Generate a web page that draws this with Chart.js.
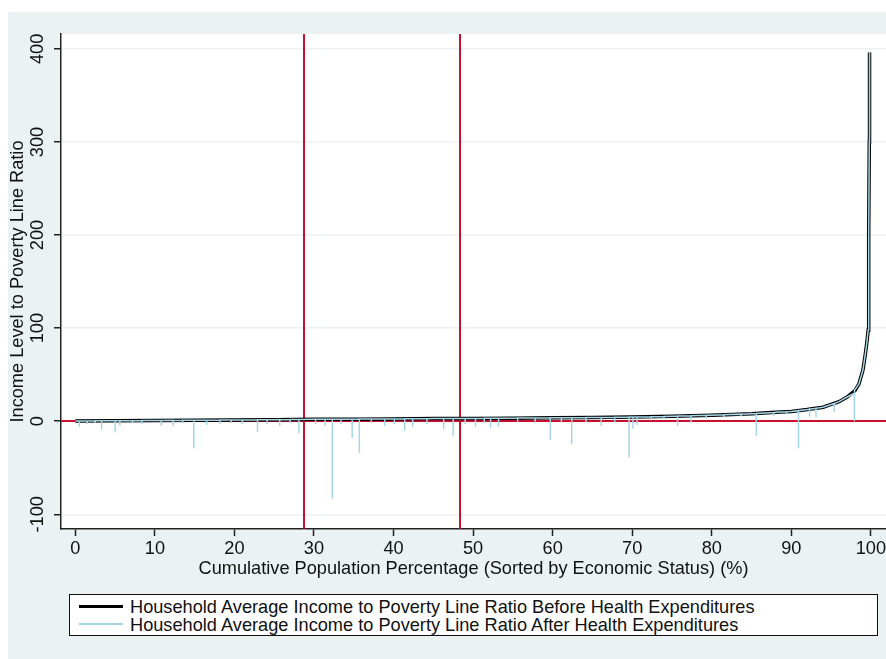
<!DOCTYPE html>
<html>
<head>
<meta charset="utf-8">
<script src="https://cdn.jsdelivr.net/npm/chart.js@4.4.1/dist/chart.umd.min.js"></script>
<style>
  html, body { margin: 0; padding: 0; background: #fff; }
  #wrap { position: relative; width: 886px; height: 659px; }
  #legend {
    position: absolute; left: 69px; top: 594px; width: 809px; height: 42px;
    box-sizing: border-box; border: 1px solid #111; background: #fff;
    font: 18.2px Arial, "Liberation Sans", sans-serif; color: #111; padding-top: 3px;
  }
  .row { position: relative; height: 18px; line-height: 18px; white-space: nowrap; }
  .swatch { position: absolute; left: 9px; width: 44px; }
  .txt { position: absolute; left: 60px; top: 0; }
</style>
</head>
<body>
<div id="wrap">
  <canvas id="chart" width="886" height="659"></canvas>
  <div id="legend">
    <div class="row"><span class="swatch" style="top:7px;height:3px;background:#000"></span><span class="txt">Household Average Income to Poverty Line Ratio Before Health Expenditures</span></div>
    <div class="row"><span class="swatch" style="top:7px;height:2px;background:#a6d6e6"></span><span class="txt">Household Average Income to Poverty Line Ratio After Health Expenditures</span></div>
  </div>
</div>
<script>
// sorted population share (%) and income / poverty line ratio before health spending
const beforeX = [0, 5, 10, 15, 20, 25, 30, 35, 40, 45, 50, 55, 60, 65, 70, 75, 80, 85, 88, 90, 92, 94, 95, 96, 97, 98, 98.5, 99, 99.3, 99.5, 99.66, 99.7, 99.75, 99.8, 99.83];
const beforeY = [0.3, 0.5, 0.8, 1.0, 1.3, 1.6, 2.0, 2.2, 2.5, 2.8, 3.0, 3.3, 3.6, 4.0, 4.5, 5.3, 6.5, 8, 9.5, 10.5, 12.5, 15, 18, 21, 26, 33, 40, 55, 72, 85, 98, 130, 200, 300, 396];

// households whose ratio drops after health spending: position, ratio before, ratio after
const dipX = [0.5, 1.5, 2.5, 3.3, 5.0, 5.6, 7.2, 8.4, 10.8, 12.3, 13.5, 14.9, 16.5, 18.2, 19.6, 21.0, 22.9, 24.1, 25.7, 27.0, 28.1, 30.2, 31.4, 32.3, 33.4, 34.8, 35.7, 37.2, 38.9, 40.1, 41.4, 42.4, 44.2, 46.3, 47.5, 49.0, 50.3, 51.4, 52.2, 53.2, 55.6, 57.8, 59.7, 61.1, 62.4, 64.2, 66.1, 67.8, 69.6, 70.1, 70.6, 72.4, 74.0, 75.7, 77.4, 79.3, 81.5, 83.7, 85.6, 87.8, 89.4, 90.9, 92.3, 93.1, 95.4, 97.9];
const dipTop = [0.3, 0.35, 0.4, 0.45, 0.5, 0.55, 0.6, 0.7, 0.8, 0.9, 0.95, 1.0, 1.1, 1.2, 1.3, 1.4, 1.5, 1.55, 1.7, 1.8, 1.9, 2.0, 2.05, 2.1, 2.15, 2.2, 2.25, 2.35, 2.45, 2.5, 2.6, 2.65, 2.75, 2.85, 2.9, 3.0, 3.0, 3.1, 3.15, 3.2, 3.35, 3.5, 3.6, 3.7, 3.8, 3.9, 4.1, 4.3, 4.45, 4.5, 4.6, 4.9, 5.1, 5.5, 5.9, 6.3, 6.9, 7.6, 8.2, 9.3, 10.2, 11.3, 12.9, 13.8, 19, 30];
const dipLow = [-6, -3, -2, -9, -12, -5, -2, -3, -5, -5, -2, -29, -4, -3, -2, -3, -11.5, -3, -5, -2, -13, -3, -5, -83, -3, -18, -34, -2, -5, -3, -10, -6, -3, -8, -16, -3, -6, -2, -7, -6, -1, -2, -20, -1, -25, -1, -5, -1, -39, -8, -4, 1, 2, -5, -2, 3, 4, 5, -16, 6, 8, -29, 5, 4, 10, 0];

// reference lines
const cutoffX = [28.7, 48.3];
const zeroY = [0];

const xTicks = [0, 10, 20, 30, 40, 50, 60, 70, 80, 90, 100];
const yTicks = [-100, 0, 100, 200, 300, 400];

const FONT = { family: 'Arial, "Liberation Sans", sans-serif', size: 18.2 };
const BG = '#eaf2f3';

const beforePts = beforeX.map((x, i) => ({ x, y: beforeY[i] }));
let afterPts = beforePts.slice();
dipX.forEach((x, i) => {
  afterPts.push({ x, y: dipTop[i] }, { x, y: dipLow[i] }, { x, y: dipTop[i] });
});
afterPts.sort((a, b) => a.x - b.x);

const background = {
  id: 'background',
  beforeDraw(chart) {
    const { ctx, chartArea: a } = chart;
    ctx.save();
    ctx.fillStyle = '#fff';
    ctx.fillRect(0, 0, chart.width, chart.height);
    ctx.fillStyle = BG;
    ctx.fillRect(8, 12, chart.width - 8, chart.height - 12);
    ctx.fillStyle = '#fff';
    ctx.fillRect(a.left, a.top, a.right - a.left, a.bottom - a.top);
    ctx.restore();
  }
};

const refLines = {
  id: 'refLines',
  beforeDatasetsDraw(chart) {
    const { ctx, chartArea: a, scales: { x, y } } = chart;
    ctx.save();
    ctx.strokeStyle = '#c8102e';
    ctx.lineWidth = 2;
    ctx.beginPath();
    cutoffX.forEach(v => {
      const px = Math.round(x.getPixelForValue(v));
      ctx.moveTo(px, a.top); ctx.lineTo(px, a.bottom);
    });
    zeroY.forEach(v => {
      const py = Math.round(y.getPixelForValue(v));
      ctx.moveTo(a.left, py); ctx.lineTo(a.right, py);
    });
    ctx.stroke();
    ctx.restore();
  }
};

new Chart(document.getElementById('chart'), {
  type: 'line',
  data: {
    datasets: [
      {
        label: 'After',
        data: afterPts,
        borderColor: '#a6d6e6',
        borderWidth: 1.5,
        pointRadius: 0,
        tension: 0,
        order: 0
      },
      {
        label: 'Before',
        data: beforePts,
        borderColor: '#000',
        borderWidth: 3.5,
        pointRadius: 0,
        tension: 0,
        order: 1
      }
    ]
  },
  options: {
    responsive: false,
    animation: false,
    devicePixelRatio: 1,
    events: [],
    layout: { padding: { left: 0, top: 34, right: 0, bottom: 70 } },
    plugins: { legend: { display: false }, tooltip: { enabled: false } },
    scales: {
      x: {
        type: 'linear',
        min: -1.8,
        max: 101.9,
        afterBuildTicks: s => { s.ticks = xTicks.map(v => ({ value: v })); },
        afterFit: s => { s.height = 60; s.paddingLeft = 0; s.paddingRight = 0; },
        grid: { drawOnChartArea: false, drawTicks: true, tickLength: 7, tickColor: '#222', tickWidth: 1.5 },
        border: { color: '#222', width: 1.5 },
        ticks: { color: '#111', font: FONT, padding: 2, maxRotation: 0 },
        title: {
          display: true,
          text: 'Cumulative Population Percentage (Sorted by Economic Status) (%)',
          color: '#111',
          font: FONT,
          padding: { top: 0, bottom: 9 }
        }
      },
      y: {
        type: 'linear',
        min: -115.8,
        max: 416,
        afterBuildTicks: s => { s.ticks = yTicks.map(v => ({ value: v })); },
        afterFit: s => { s.width = 61; s.paddingTop = 0; s.paddingBottom = 0; },
        grid: { color: BG, lineWidth: 1.5, drawTicks: true, tickLength: 7, tickColor: '#222', tickWidth: 1.5 },
        border: { color: '#222', width: 1.5 },
        ticks: { color: '#111', font: FONT, minRotation: 90, maxRotation: 90, crossAlign: 'center', padding: -2 },
        title: {
          display: true,
          text: 'Income Level to Poverty Line Ratio',
          color: '#111',
          font: FONT,
          padding: { top: 7, bottom: 0 }
        }
      }
    }
  },
  plugins: [background, refLines]
});
</script>
</body>
</html>
